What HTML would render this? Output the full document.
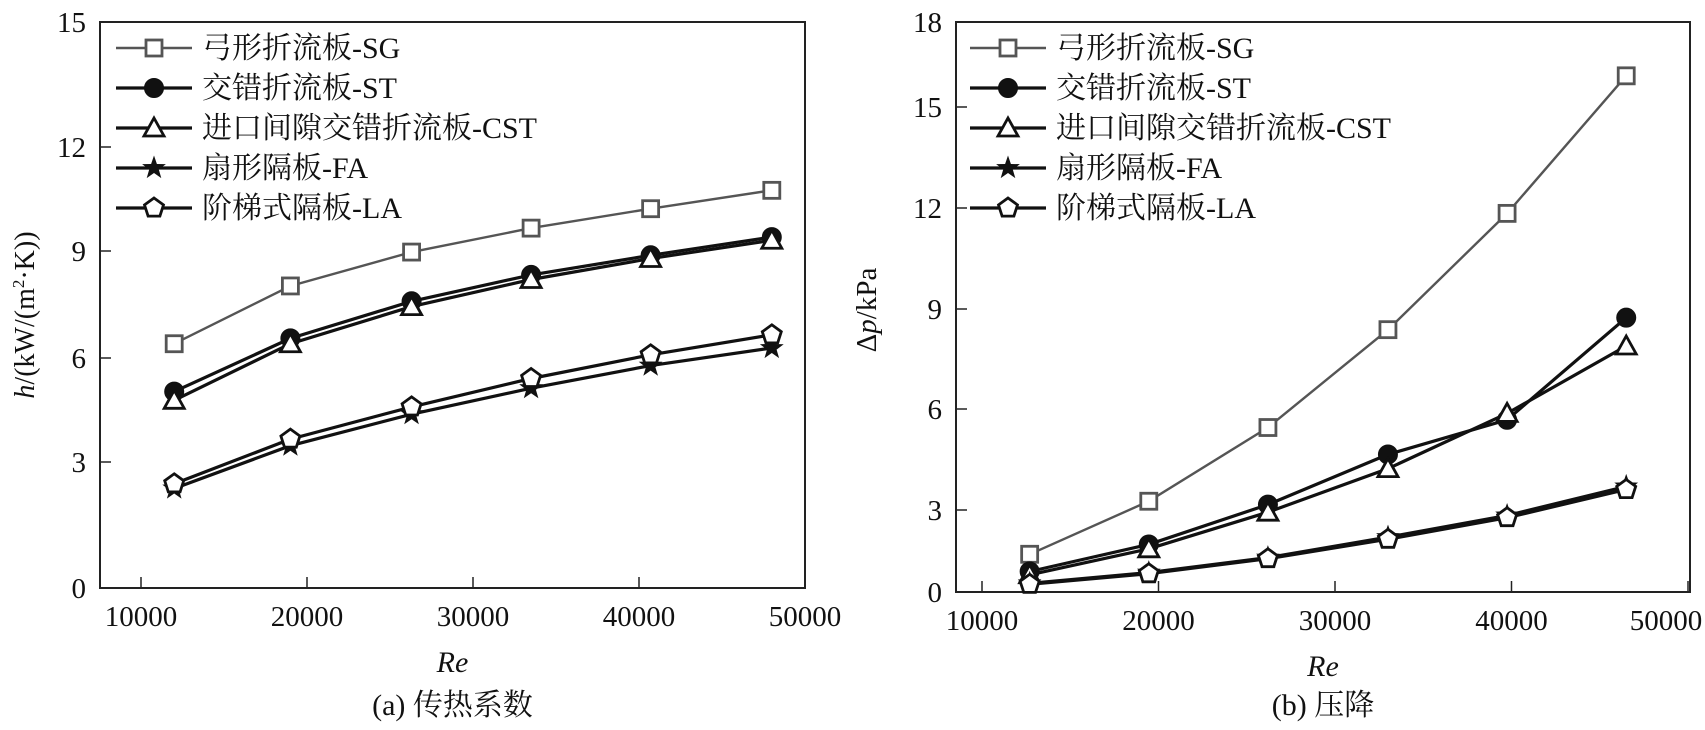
<!DOCTYPE html>
<html><head><meta charset="utf-8">
<style>
html,body{margin:0;padding:0;background:#fff;}
svg text{font-family:"Liberation Serif","Noto Serif CJK SC","Noto Sans CJK SC",serif;fill:#111;}
</style></head>
<body>
<svg id="fig" width="1705" height="725" viewBox="0 0 1705 725" xmlns="http://www.w3.org/2000/svg"></svg>
<script>
// ---- data ----
const seriesNames = ["弓形折流板-SG","交错折流板-ST","进口间隙交错折流板-CST","扇形隔板-FA","阶梯式隔板-LA"];
const reA = [12000,19000,26300,33500,40700,48000];
const hSG = [6.40,8.02,8.97,9.66,10.22,10.75];
const hST = [5.03,6.55,7.59,8.33,8.88,9.40];
const hCST = [4.78,6.40,7.44,8.20,8.79,9.31];
const hFA = [2.37,3.47,4.38,5.13,5.78,6.28];
const hLA = [2.48,3.66,4.59,5.41,6.09,6.65];
const reB = [12700,19450,26200,33000,39750,46500];
const pSG = [1.38,3.26,5.45,8.38,11.84,16.1];
const pST = [0.75,1.74,3.16,4.65,5.68,8.74];
const pCST = [0.63,1.58,2.92,4.23,5.87,7.89];
const pFA = [0.32,0.71,1.26,2.01,2.80,3.70];
const pLA = [0.28,0.67,1.22,1.93,2.72,3.61];
const xTicks = [10000,20000,30000,40000,50000];
const yTicksA = [0,3,6,9,12,15];
const yTicksB = [0,3,6,9,12,15,18];

const NS="http://www.w3.org/2000/svg";
const svg=document.getElementById('fig');
function mk(tag,attrs,parent){const e=document.createElementNS(NS,tag);for(const k in attrs)e.setAttribute(k,attrs[k]);(parent||svg).appendChild(e);return e;}
function lin(d0,d1,r0,r1){return v=>r0+(v-d0)*(r1-r0)/(d1-d0);}
function piece(dom,rng){return v=>{for(let i=0;i<dom.length-1;i++){if(v<=dom[i+1]||i===dom.length-2){return rng[i]+(v-dom[i])*(rng[i+1]-rng[i])/(dom[i+1]-dom[i]);}}};}

function marker(g,type,x,y,color){
  let e;
  if(type==='sq'){e=mk('rect',{x:x-8,y:y-8,width:16,height:16,fill:'#fff',stroke:color,'stroke-width':2.8},g);}
  else if(type==='circ'){e=mk('circle',{cx:x,cy:y,r:9.5,fill:'#111',stroke:'#111','stroke-width':1},g);}
  else if(type==='tri'){e=mk('polygon',{points:`${x},${y-10} ${x+10},${y+8} ${x-10},${y+8}`,fill:'#fff',stroke:'#111','stroke-width':2.8},g);}
  else if(type==='star'){let p=[];for(let i=0;i<10;i++){const r=i%2?5:12.5;const a=-Math.PI/2+i*Math.PI/5;p.push((x+r*Math.cos(a)).toFixed(1)+','+(y+r*Math.sin(a)).toFixed(1));}e=mk('polygon',{points:p.join(' '),fill:'#111'},g);}
  else {let p=[];for(let i=0;i<5;i++){const a=-Math.PI/2+i*2*Math.PI/5;p.push((x+10*Math.cos(a)).toFixed(1)+','+(y+10*Math.sin(a)).toFixed(1));}e=mk('polygon',{points:p.join(' '),fill:'#fff',stroke:'#111','stroke-width':2.8},g);}
  
  
  return e;
}

const styles=[{c:'#555',m:'sq',w:2.4},{c:'#111',m:'circ',w:3.2},{c:'#111',m:'tri',w:3.2},{c:'#111',m:'star',w:3.2},{c:'#111',m:'pent',w:3.2}];

function panel(cfg){
  const g=mk('g',{});
  
  
  const X=lin(10000,50000,cfg.x10,cfg.x50);
  const Y=piece(cfg.yt,cfg.ypx);
  const box=mk('rect',{x:cfg.L,y:cfg.T,width:cfg.R-cfg.L,height:cfg.B-cfg.T,fill:'none',stroke:'#222','stroke-width':2},g);
  
  
  xTicks.forEach(t=>{
    const x=X(t);
    mk('line',{x1:x,y1:cfg.B,x2:x,y2:cfg.B-11,stroke:'#222','stroke-width':1.5},g);
    const lb=mk('text',{x:Math.min(x,1705-39),y:cfg.B+38,'font-size':29,'text-anchor':'middle'},g);
    lb.textContent=t;
    
    
  });
  cfg.yt.forEach(t=>{
    const y=Y(t);
    mk('line',{x1:cfg.L,y1:y,x2:cfg.L+11,y2:y,stroke:'#222','stroke-width':1.5},g);
    const lb=mk('text',{x:cfg.L-14,y:y+10,'font-size':29,'text-anchor':'end'},g);
    lb.textContent=t;
    
    
  });
  cfg.ys.forEach((vals,si)=>{
    const st=styles[si];
    const sg=mk('g',{},g);
    
    
    const pts=vals.map((v,i)=>X(cfg.xs[i]).toFixed(1)+','+Y(v).toFixed(1)).join(' ');
    mk('polyline',{points:pts,fill:'none',stroke:st.c,'stroke-width':st.w},sg);
    vals.forEach((v,i)=>marker(sg,st.m,X(cfg.xs[i]),Y(v),st.c));
  });
  const lg=mk('g',{},g);
  
  
  seriesNames.forEach((n,i)=>{
    const st=styles[i];const y=cfg.legY+i*40;
    const e=mk('g',{},lg);
    
    
    mk('line',{x1:cfg.legX,y1:y,x2:cfg.legX+76,y2:y,stroke:st.c,'stroke-width':st.w},e);
    marker(e,st.m,cfg.legX+38,y,st.c);
    const t=mk('text',{x:cfg.legX+86,y:y+10,'font-size':30},e);
    t.textContent=n;
  });
  const rt=mk('text',{x:(cfg.L+cfg.R)/2,y:cfg.B+84,'font-size':30,'font-style':'italic','text-anchor':'middle'},g);
  rt.textContent='Re';
  
  
  const cp=mk('text',{x:(cfg.L+cfg.R)/2,y:715,'font-size':30,'text-anchor':'middle'},g);
  cp.textContent=cfg.caption;
  
  
  return g;
}

panel({name:'chart-heat-transfer',L:100,R:805,T:22,B:588,x10:141,x50:805,
  yt:yTicksA,ypx:[588,462,358,251,147,22],xs:reA,ys:[hSG,hST,hCST,hFA,hLA],
  legX:116,legY:48,caption:'(a) 传热系数'});
panel({name:'chart-pressure-drop',L:956,R:1690,T:22,B:592,x10:982,x50:1688,
  yt:yTicksB,ypx:[592,510,409,309,208,107,22],xs:reB,ys:[pSG,pST,pCST,pFA,pLA],
  legX:970,legY:48,caption:'(b) 压降'});

const ya=mk('text',{x:0,y:0,'font-size':28,'text-anchor':'middle',transform:'translate(34,315) rotate(-90)'});
ya.innerHTML='<tspan font-style="italic">h</tspan>/(kW/(m<tspan font-size="17" dy="-10">2</tspan><tspan dy="10">·K))</tspan>';


const yb=mk('text',{x:0,y:0,'font-size':29,'text-anchor':'middle',transform:'translate(876,310) rotate(-90)'});
yb.innerHTML='Δ<tspan font-style="italic">p</tspan>/kPa';


</script>
</body></html>
